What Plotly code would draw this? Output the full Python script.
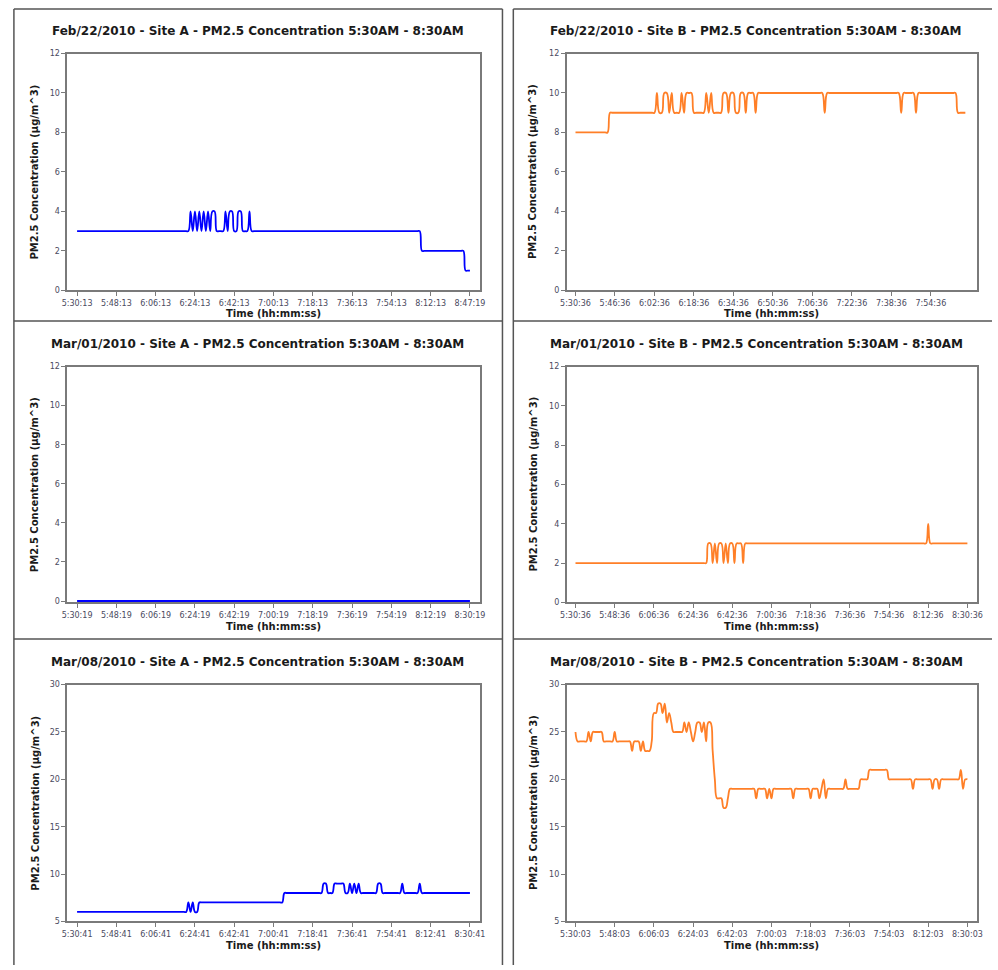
import plotly.graph_objects as go

# ---------------- data (one value per minute, PM2.5 in ug/m^3) ----------------
feb22_a = [
    3,3,3,3,3,3,3,3,3,3,3,3,3,3,3,3,3,3,3,3,
    3,3,3,3,3,3,3,3,3,3,3,3,3,3,3,3,3,3,3,3,
    3,3,3,3,3,3,3,3,3,3,3,3,4,3,4,3,4,3,4,3,
    4,3,4,4,3,3,3,3,4,3,4,4,3,3,4,4,3,3,3,4,
    3,3,3,3,3,3,3,3,3,3,3,3,3,3,3,3,3,3,3,3,
    3,3,3,3,3,3,3,3,3,3,3,3,3,3,3,3,3,3,3,3,
    3,3,3,3,3,3,3,3,3,3,3,3,3,3,3,3,3,3,3,3,
    3,3,3,3,3,3,3,3,3,3,3,3,3,3,3,3,3,3,2,2,
    2,2,2,2,2,2,2,2,2,2,2,2,2,2,2,2,2,2,1,1,
    1,
]
feb22_b = [
    8,8,8,8,8,8,8,8,8,8,8,8,8,8,9,9,9,9,9,9,
    9,9,9,9,9,9,9,9,9,9,9,9,9,10,9,9,10,10,9,10,
    9,9,9,10,9,10,10,10,9,9,9,9,9,10,9,10,9,9,9,9,
    10,10,9,10,10,9,9,10,10,9,10,10,10,9,10,10,10,10,10,10,
    10,10,10,10,10,10,10,10,10,10,10,10,10,10,10,10,10,10,10,10,
    10,9,10,10,10,10,10,10,10,10,10,10,10,10,10,10,10,10,10,10,
    10,10,10,10,10,10,10,10,10,10,10,10,9,10,10,10,10,10,9,10,
    10,10,10,10,10,10,10,10,10,10,10,10,10,10,10,9,9,9,9,
]
mar01_a = [
    0,0,0,0,0,0,0,0,0,0,0,0,0,0,0,0,0,0,0,0,
    0,0,0,0,0,0,0,0,0,0,0,0,0,0,0,0,0,0,0,0,
    0,0,0,0,0,0,0,0,0,0,0,0,0,0,0,0,0,0,0,0,
    0,0,0,0,0,0,0,0,0,0,0,0,0,0,0,0,0,0,0,0,
    0,0,0,0,0,0,0,0,0,0,0,0,0,0,0,0,0,0,0,0,
    0,0,0,0,0,0,0,0,0,0,0,0,0,0,0,0,0,0,0,0,
    0,0,0,0,0,0,0,0,0,0,0,0,0,0,0,0,0,0,0,0,
    0,0,0,0,0,0,0,0,0,0,0,0,0,0,0,0,0,0,0,0,
    0,0,0,0,0,0,0,0,0,0,0,0,0,0,0,0,0,0,0,0,
    0,
]
mar01_b = [
    2,2,2,2,2,2,2,2,2,2,2,2,2,2,2,2,2,2,2,2,
    2,2,2,2,2,2,2,2,2,2,2,2,2,2,2,2,2,2,2,2,
    2,2,2,2,2,2,2,2,2,2,2,2,2,2,2,2,2,2,2,2,
    2,3,3,2,3,2,3,3,2,3,2,3,3,2,3,3,3,2,3,3,
    3,3,3,3,3,3,3,3,3,3,3,3,3,3,3,3,3,3,3,3,
    3,3,3,3,3,3,3,3,3,3,3,3,3,3,3,3,3,3,3,3,
    3,3,3,3,3,3,3,3,3,3,3,3,3,3,3,3,3,3,3,3,
    3,3,3,3,3,3,3,3,3,3,3,3,3,3,3,3,3,3,3,3,
    3,3,4,3,3,3,3,3,3,3,3,3,3,3,3,3,3,3,3,3,
    3,
]
mar08_a = [
    6,6,6,6,6,6,6,6,6,6,6,6,6,6,6,6,6,6,6,6,
    6,6,6,6,6,6,6,6,6,6,6,6,6,6,6,6,6,6,6,6,
    6,6,6,6,6,6,6,6,6,6,6,7,6,7,6,6,7,7,7,7,
    7,7,7,7,7,7,7,7,7,7,7,7,7,7,7,7,7,7,7,7,
    7,7,7,7,7,7,7,7,7,7,7,7,7,7,7,8,8,8,8,8,
    8,8,8,8,8,8,8,8,8,8,8,8,8,9,9,8,8,8,9,9,
    9,9,9,8,8,9,8,9,8,9,8,8,8,8,8,8,8,8,9,9,
    8,8,8,8,8,8,8,8,8,9,8,8,8,8,8,8,8,9,8,8,
    8,8,8,8,8,8,8,8,8,8,8,8,8,8,8,8,8,8,8,8,
    8,
]
mar08_b = [
    25,24,24,24,24,24,25,24,25,25,25,25,25,24,24,24,24,24,25,24,
    24,24,24,24,24,24,23,24,24,24,23,24,23,23,23,24,27,27,28,28,
    27,28,26,27,26,25,25,25,25,25,26,25,26,25,24,25,26,26,25,26,
    24,26,26,23,20,18,18,18,17,17,18,19,19,19,19,19,19,19,19,19,
    19,19,19,18,19,19,19,19,18,19,18,19,19,19,19,19,19,19,19,19,
    18,19,19,19,19,19,19,19,18,19,19,19,18,19,20,18,19,19,19,19,
    19,19,19,19,20,19,19,19,19,19,19,20,20,20,20,21,21,21,21,21,
    21,21,21,21,20,20,20,20,20,20,20,20,20,20,20,19,20,20,20,20,
    20,20,20,20,19,20,20,19,20,20,20,20,20,20,20,20,20,21,19,20,
    20,
]

ticks_feb22_a = ["5:30:13", "5:48:13", "6:06:13", "6:24:13", "6:42:13", "7:00:13",
                 "7:18:13", "7:36:13", "7:54:13", "8:12:13", "8:47:19"]
ticks_feb22_b = ["5:30:36", "5:46:36", "6:02:36", "6:18:36", "6:34:36", "6:50:36",
                 "7:06:36", "7:22:36", "7:38:36", "7:54:36"]
ticks_mar01_a = ["5:30:19", "5:48:19", "6:06:19", "6:24:19", "6:42:19", "7:00:19",
                 "7:18:19", "7:36:19", "7:54:19", "8:12:19", "8:30:19"]
ticks_mar01_b = ["5:30:36", "5:48:36", "6:06:36", "6:24:36", "6:42:36", "7:00:36",
                 "7:18:36", "7:36:36", "7:54:36", "8:12:36", "8:30:36"]
ticks_mar08_a = ["5:30:41", "5:48:41", "6:06:41", "6:24:41", "6:42:41", "7:00:41",
                 "7:18:41", "7:36:41", "7:54:41", "8:12:41", "8:30:41"]
ticks_mar08_b = ["5:30:03", "5:48:03", "6:06:03", "6:24:03", "6:42:03", "7:00:03",
                 "7:18:03", "7:36:03", "7:54:03", "8:12:03", "8:30:03"]

titles = [
    "Feb/22/2010 - Site A - PM2.5 Concentration 5:30AM - 8:30AM",
    "Feb/22/2010 - Site B - PM2.5 Concentration 5:30AM - 8:30AM",
    "Mar/01/2010 - Site A - PM2.5 Concentration 5:30AM - 8:30AM",
    "Mar/01/2010 - Site B - PM2.5 Concentration 5:30AM - 8:30AM",
    "Mar/08/2010 - Site A - PM2.5 Concentration 5:30AM - 8:30AM",
    "Mar/08/2010 - Site B - PM2.5 Concentration 5:30AM - 8:30AM",
]
y_title = "PM2.5 Concentration (µg/m^3)"
x_title = "Time (hh:mm:ss)"

# ---------------- layout geometry (pixels) ----------------
W, H = 998, 970
BLUE = "#0000FF"
ORANGE = "#FF7F27"

panels = [
    # values, ticklabels, tickstep, xrange, yrange, ydtick, color, col, row
    (feb22_a, ticks_feb22_a, 18, [-4.52, 184.5], [0, 12], 2, BLUE, 0, 0),
    (feb22_b, ticks_feb22_b, 16, [-3.6, 162.8], [0, 12], 2, ORANGE, 1, 0),
    (mar01_a, ticks_mar01_a, 18, [-4.52, 184.5], [-0.07, 12], 2, BLUE, 0, 1),
    (mar01_b, ticks_mar01_b, 18, [-4.08, 184.5], [0, 12], 2, ORANGE, 1, 1),
    (mar08_a, ticks_mar08_a, 18, [-4.52, 184.5], [5, 30], 5, BLUE, 0, 2),
    (mar08_b, ticks_mar08_b, 18, [-4.08, 184.5], [5, 30], 5, ORANGE, 1, 2),
]

col_x = [(61, 479), (567, 983)]
row_y = [(50, 289), (366, 604), (687, 926)]
title_cx = [254, 759]
title_y = [27, 343, 664]
ytitle_x = [28, 533]
xtitle_y = [312, 628, 950]

def px(x):
    return x / W

def py(y):
    return 1 - y / H

fig = go.Figure()
layout = dict(
    width=W, height=H,
    margin=dict(l=0, r=0, t=0, b=0),
    paper_bgcolor="white", plot_bgcolor="white",
    showlegend=False,
    font=dict(family="DejaVu Sans", size=8, color="#4a4a60"),
)
annotations = []
shapes = []

for i, (vals, tlabels, step, xr, yr, ydt, color, c, r) in enumerate(panels):
    n = i + 1
    xa = "x" if n == 1 else f"x{n}"
    ya = "y" if n == 1 else f"y{n}"
    fig.add_trace(go.Scatter(
        x=list(range(len(vals))), y=vals, mode="lines",
        line=dict(color=color, width=1.8, shape="spline", smoothing=1.2),
        xaxis=xa, yaxis=ya, hoverinfo="x+y",
    ))
    x0, x1 = col_x[c]
    y0, y1 = row_y[r]
    common = dict(
        showgrid=False, zeroline=False, showline=True, mirror=True,
        linecolor="#7a7a7a", linewidth=1.5,
        ticks="outside", ticklen=4, tickwidth=1, tickcolor="#7a7a7a",
        tickfont=dict(family="DejaVu Sans", size=8, color="#4a4a60"),
    )
    layout["xaxis" if n == 1 else f"xaxis{n}"] = dict(
        common, domain=[px(x0), px(x1)], anchor=ya, range=xr,
        tickmode="array",
        tickvals=[k * step for k in range(len(tlabels))],
        ticktext=tlabels,
    )
    layout["yaxis" if n == 1 else f"yaxis{n}"] = dict(
        common, domain=[py(y1), py(y0)], anchor=xa, range=yr,
        tickmode="linear", tick0=0 if ydt == 2 else 5, dtick=ydt,
    )
    annotations.append(dict(
        text=titles[i], x=px(title_cx[c]), y=py(title_y[r]),
        xref="paper", yref="paper", xanchor="center", yanchor="middle",
        showarrow=False,
        font=dict(family="DejaVu Sans", size=12, color="#1a1a1a", weight="bold"),
    ))
    annotations.append(dict(
        text=y_title, x=px(ytitle_x[c]), y=py((y0 + y1) / 2),
        xref="paper", yref="paper", xanchor="center", yanchor="middle",
        textangle=-90, showarrow=False,
        font=dict(family="DejaVu Sans", size=10, color="#1a1a1a", weight="bold"),
    ))
    annotations.append(dict(
        text=x_title, x=px((x0 + x1) / 2), y=py(xtitle_y[r]),
        xref="paper", yref="paper", xanchor="center", yanchor="middle",
        showarrow=False,
        font=dict(family="DejaVu Sans", size=10, color="#1a1a1a", weight="bold"),
    ))

# panel frame lines
frame = dict(color="#555555", width=1.5)
for (xa_, xb_) in [(7, 502), (513, 998)]:
    for yy in [5, 320, 641]:
        shapes.append(dict(type="line", xref="paper", yref="paper",
                           x0=px(xa_), x1=px(xb_), y0=py(yy), y1=py(yy), line=frame))
for xx in [7, 502, 513]:
    shapes.append(dict(type="line", xref="paper", yref="paper",
                       x0=px(xx), x1=px(xx), y0=py(5), y1=py(970), line=frame))

layout["annotations"] = annotations
layout["shapes"] = shapes
fig.update_layout(**layout)
fig.write_html("out.html")
